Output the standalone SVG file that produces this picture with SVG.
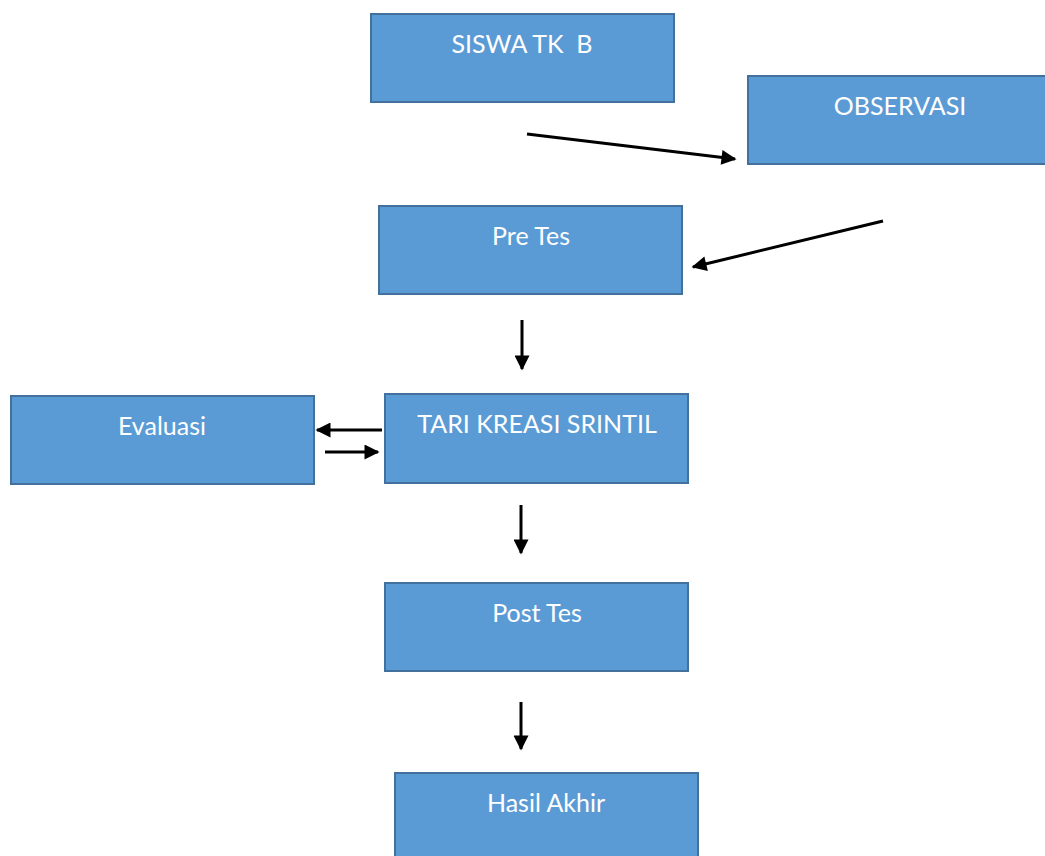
<svg xmlns="http://www.w3.org/2000/svg" width="1045" height="856" viewBox="0 0 1045 856">
  <style>
    .box { fill: #5B9BD5; stroke: #41719C; stroke-width: 2; }
    .lbl { fill: #FFFFFF; font-family: Lato, "Open Sans", sans-serif; font-size: 25px; text-anchor: middle; }
    .arr { stroke: #000000; stroke-width: 3; fill: none; marker-end: url(#head); }
  </style>
  <defs>
    <marker id="head" viewBox="0 0 10 10" refX="9" refY="5" markerWidth="5.5" markerHeight="5" orient="auto" markerUnits="strokeWidth">
      <path d="M0,0 L10,5 L0,10 z" fill="#000000"/>
    </marker>
  </defs>
  <rect width="1045" height="856" fill="#FFFFFF"/>

  <g id="siswa">
    <rect class="box" x="371" y="14" width="303" height="88"/>
    <text class="lbl" x="522" y="53" xml:space="preserve">SISWA TK  B</text>
  </g>
  <g id="observasi">
    <rect class="box" x="748" y="76" width="303" height="88"/>
    <text class="lbl" x="900" y="115">OBSERVASI</text>
  </g>
  <g id="pretes">
    <rect class="box" x="379" y="206" width="303" height="88"/>
    <text class="lbl" x="531" y="245">Pre Tes</text>
  </g>
  <g id="evaluasi">
    <rect class="box" x="11" y="396" width="303" height="88"/>
    <text class="lbl" x="162" y="435">Evaluasi</text>
  </g>
  <g id="tari">
    <rect class="box" x="385" y="394" width="303" height="89"/>
    <text class="lbl" x="537" y="433">TARI KREASI SRINTIL</text>
  </g>
  <g id="posttes">
    <rect class="box" x="385" y="583" width="303" height="88"/>
    <text class="lbl" x="537" y="622">Post Tes</text>
  </g>
  <g id="hasil">
    <rect class="box" x="395" y="773" width="303" height="90"/>
    <text class="lbl" x="546" y="812">Hasil Akhir</text>
  </g>

  <g id="connectors">
    <line class="arr" x1="527" y1="134" x2="735" y2="159"/>
    <line class="arr" x1="883" y1="221" x2="693" y2="267"/>
    <line class="arr" x1="522" y1="320" x2="522" y2="369"/>
    <line class="arr" x1="382" y1="430" x2="317" y2="430"/>
    <line class="arr" x1="325" y1="452" x2="378" y2="452"/>
    <line class="arr" x1="521" y1="505" x2="521" y2="553"/>
    <line class="arr" x1="521" y1="702" x2="521" y2="749"/>
  </g>
</svg>
